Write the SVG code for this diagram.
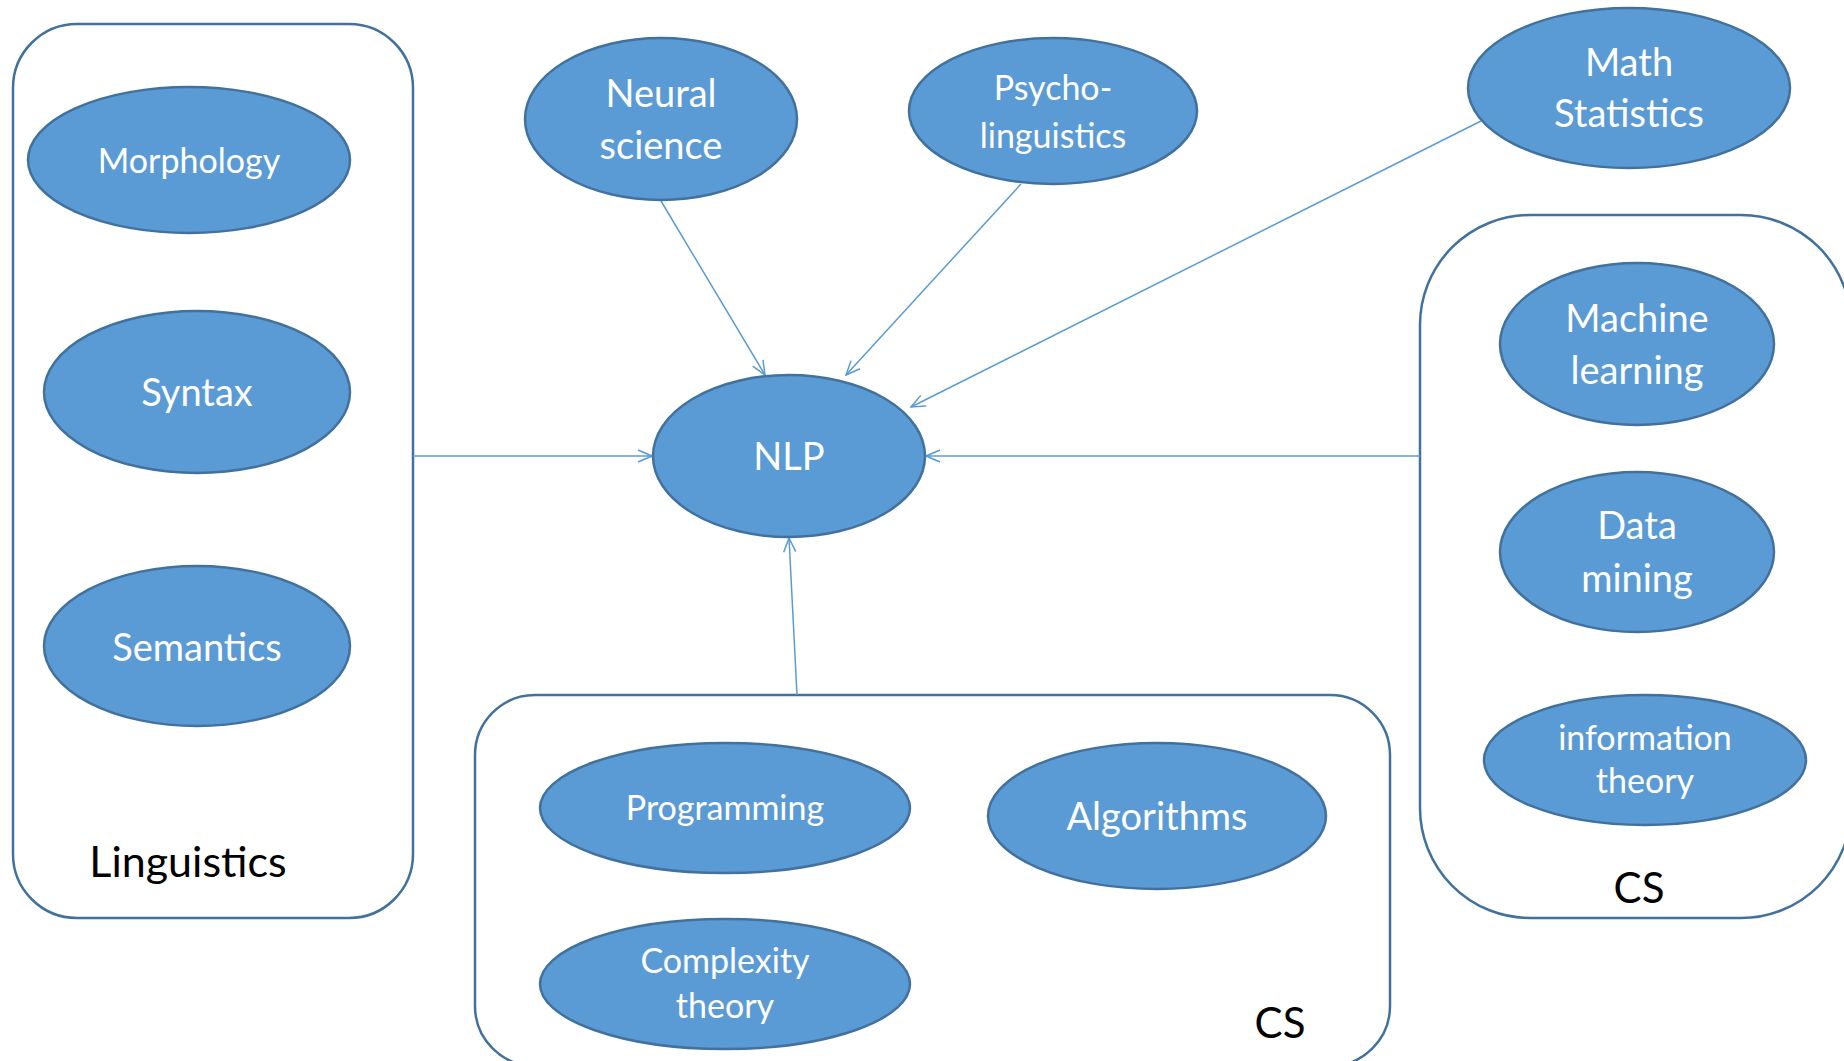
<svg xmlns="http://www.w3.org/2000/svg" width="1844" height="1061" viewBox="0 0 1844 1061">
<style>
.box{fill:none;stroke:#41719C;stroke-width:2.5}
.node ellipse{fill:#5B9BD5;stroke:#41719C;stroke-width:2.5}
.node text{fill:#ffffff;font-family:Lato,"Open Sans","Liberation Sans",sans-serif;text-anchor:middle}
.label{fill:#000000;font-family:Lato,"Open Sans","Liberation Sans",sans-serif;text-anchor:middle}
.edge{stroke:#5B9BD5;stroke-width:1.5;fill:none;marker-end:url(#arr)}
.l{font-size:38px}
.s{font-size:34px}
</style>
<defs>
<marker id="arr" viewBox="0 0 16 14" refX="15" refY="7" markerWidth="16" markerHeight="14" markerUnits="userSpaceOnUse" orient="auto">
<path d="M1,1 L15,7 L1,13" fill="none" stroke="#5B9BD5" stroke-width="1.5"/>
</marker>
</defs>

<!-- group frames -->
<g id="linguistics">
<rect class="box" x="13" y="24" width="400" height="894" rx="64"/>
<text class="label" x="188" y="877" font-size="43">Linguistics</text>
</g>
<g id="cs-right">
<rect class="box" x="1420" y="215" width="431" height="703" rx="110"/>
<text class="label" x="1639" y="903" font-size="42">CS</text>
</g>
<g id="cs-bottom">
<rect class="box" x="475" y="695" width="915" height="371" rx="60"/>
<text class="label" x="1280" y="1038" font-size="42">CS</text>
</g>

<!-- connectors -->
<g id="connectors">
<line class="edge" x1="661" y1="201" x2="765" y2="375"/>
<line class="edge" x1="1021" y1="184" x2="846" y2="375"/>
<line class="edge" x1="1481" y1="121" x2="911" y2="407"/>
<line class="edge" x1="413" y1="456" x2="652" y2="456"/>
<line class="edge" x1="1420" y1="456" x2="926" y2="456"/>
<line class="edge" x1="797" y1="695" x2="789" y2="538"/>
</g>

<!-- nodes -->
<g id="morphology" class="node">
<ellipse cx="189" cy="160" rx="161" ry="73"/>
<text class="s" x="189" y="173">Morphology</text>
</g>
<g id="syntax" class="node">
<ellipse cx="197" cy="392" rx="153" ry="81"/>
<text class="l" x="197" y="406">Syntax</text>
</g>
<g id="semantics" class="node">
<ellipse cx="197" cy="646" rx="153" ry="80"/>
<text class="l" x="197" y="661">Semantics</text>
</g>
<g id="neural-science" class="node">
<ellipse cx="661" cy="119" rx="136" ry="81"/>
<text class="l" x="661" y="107">Neural</text>
<text class="l" x="661" y="159">science</text>
</g>
<g id="psycholinguistics" class="node">
<ellipse cx="1053" cy="111" rx="144" ry="73"/>
<text class="s" x="1053" y="100">Psycho-</text>
<text class="s" x="1053" y="148">linguistics</text>
</g>
<g id="math-statistics" class="node">
<ellipse cx="1629" cy="88" rx="161" ry="80"/>
<text class="l" x="1629" y="76">Math</text>
<text class="l" x="1629" y="127">Statistics</text>
</g>
<g id="nlp" class="node">
<ellipse cx="789" cy="456" rx="136" ry="81"/>
<text class="l" x="789" y="470">NLP</text>
</g>
<g id="machine-learning" class="node">
<ellipse cx="1637" cy="344" rx="137" ry="81"/>
<text class="l" x="1637" y="332">Machine</text>
<text class="l" x="1637" y="384">learning</text>
</g>
<g id="data-mining" class="node">
<ellipse cx="1637" cy="552" rx="137" ry="80"/>
<text class="l" x="1637" y="539">Data</text>
<text class="l" x="1637" y="592">mining</text>
</g>
<g id="information-theory" class="node">
<ellipse cx="1645" cy="760" rx="161" ry="65"/>
<text class="s" x="1645" y="750">information</text>
<text class="s" x="1645" y="793">theory</text>
</g>
<g id="programming" class="node">
<ellipse cx="725" cy="808" rx="185" ry="65"/>
<text class="s" x="725" y="820">Programming</text>
</g>
<g id="algorithms" class="node">
<ellipse cx="1157" cy="816" rx="169" ry="73"/>
<text class="l" x="1157" y="830">Algorithms</text>
</g>
<g id="complexity-theory" class="node">
<ellipse cx="725" cy="984" rx="185" ry="65"/>
<text class="s" x="725" y="973">Complexity</text>
<text class="s" x="725" y="1018">theory</text>
</g>
</svg>
